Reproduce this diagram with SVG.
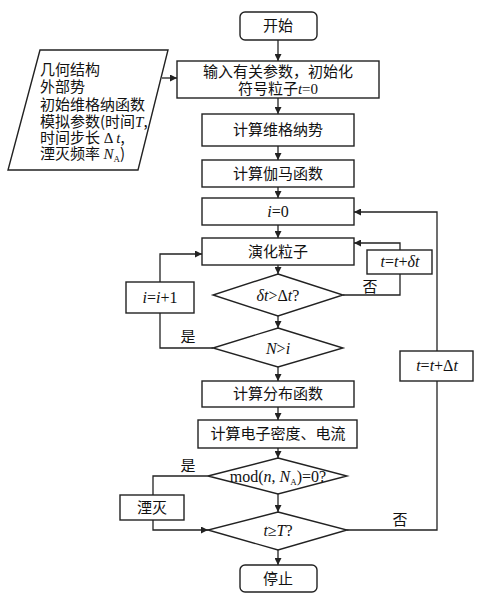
<svg xmlns="http://www.w3.org/2000/svg" width="481" height="594" viewBox="0 0 481 594">
<style>
.s{fill:#fff;stroke:#222;stroke-width:1.4}
.c{fill:none;stroke:#222;stroke-width:1.3}
.t{font-family:"Noto Sans CJK SC","Liberation Serif",serif;font-size:15px;fill:#111;text-anchor:middle}
.l{font-family:"Noto Sans CJK SC","Liberation Serif",serif;font-size:15px;fill:#111}
.m{font-family:"Liberation Serif",serif;font-size:16px;fill:#111;text-anchor:middle}
.i{font-style:italic}
</style>
<defs>
<marker id="a" viewBox="0 0 10 10" refX="10" refY="5" markerWidth="7" markerHeight="7" markerUnits="userSpaceOnUse" orient="auto">
<path d="M0,0L10,5L0,10z" fill="#222"/>
</marker>
</defs>
<g id="connectors" class="c" marker-end="url(#a)">
<line x1="278" y1="40" x2="278" y2="61"/>
<line x1="162" y1="78" x2="177" y2="78"/>
<line x1="278" y1="98" x2="278" y2="114"/>
<line x1="278" y1="146" x2="278" y2="160"/>
<line x1="278" y1="187" x2="278" y2="198"/>
<line x1="278" y1="225" x2="278" y2="238"/>
<line x1="278" y1="265" x2="278" y2="274"/>
<line x1="278" y1="316" x2="278" y2="328"/>
<line x1="278" y1="367" x2="278" y2="381"/>
<line x1="278" y1="407" x2="278" y2="420"/>
<line x1="278" y1="448" x2="278" y2="458"/>
<line x1="278" y1="494" x2="278" y2="512"/>
<line x1="278" y1="550" x2="278" y2="565"/>
<polyline points="343,295 400,295 400,274" marker-end="none"/>
<polyline points="400,250 400,243 354,243"/>
<polyline points="213,348 160,348 160,313" marker-end="none"/>
<polyline points="160,282 160,254 202,254"/>
<polyline points="437,351 437,212 354,212"/>
<polyline points="347,530 437,530 437,381" marker-end="none"/>
<polyline points="208,476 153,476 153,495" marker-end="none"/>
<polyline points="153,520 153,530 208,530"/>
</g>
<g id="start"><rect class="s" x="240" y="12" width="77" height="28" rx="5"/><text class="t" x="278" y="31">开始</text></g>
<g id="params"><polygon class="s" points="40,50 168,50 138,170 8,170"/>
<text class="l" x="40" y="75">几何结构</text>
<text class="l" x="40" y="92">外部势</text>
<text class="l" x="40" y="110">初始维格纳函数</text>
<text class="l" x="40" y="127">模拟参数(时间<tspan class="i" font-family="Liberation Serif">T</tspan>,</text>
<text class="l" x="40" y="143">时间步长<tspan font-family="Liberation Serif"> Δ </tspan><tspan class="i" font-family="Liberation Serif">t</tspan>,</text>
<text class="l" x="40" y="159">湮灭频率 <tspan class="i" font-family="Liberation Serif">N</tspan><tspan font-family="Liberation Serif" font-size="9" dy="3">A</tspan><tspan dy="-3">)</tspan></text>
</g>
<g id="init"><rect class="s" x="177" y="61" width="202" height="37"/>
<text class="t" x="278" y="77">输入有关参数，初始化</text>
<text class="t" x="278" y="94">符号粒子<tspan class="i" font-family="Liberation Serif">t</tspan><tspan font-family="Liberation Serif">=0</tspan></text></g>
<g id="wigner"><rect class="s" x="202" y="114" width="152" height="32"/><text class="t" x="278" y="135">计算维格纳势</text></g>
<g id="gamma"><rect class="s" x="202" y="160" width="152" height="27"/><text class="t" x="278" y="179">计算伽马函数</text></g>
<g id="i0"><rect class="s" x="202" y="198" width="152" height="27"/><text class="m" x="278" y="217"><tspan class="i">i</tspan>=0</text></g>
<g id="evolve"><rect class="s" x="202" y="238" width="152" height="27"/><text class="t" x="278" y="257">演化粒子</text></g>
<g id="dtdec"><polygon class="s" points="278,274 343,295 278,316 213,295"/><text class="m" x="278" y="301"><tspan class="i">δt</tspan>&gt;Δ<tspan class="i">t</tspan>?</text></g>
<g id="tdt"><rect class="s" x="367" y="250" width="65" height="24"/><text class="m" x="400" y="267"><tspan class="i">t</tspan>=<tspan class="i">t</tspan>+<tspan class="i">δt</tspan></text></g>
<g id="ii1"><rect class="s" x="126" y="282" width="68" height="31"/><text class="m" x="160" y="303"><tspan class="i">i</tspan>=<tspan class="i">i</tspan>+1</text></g>
<g id="ndec"><polygon class="s" points="278,328 343,348 278,367 213,348"/><text class="m" x="278" y="354"><tspan class="i">N</tspan>&gt;<tspan class="i">i</tspan></text></g>
<g id="tDt"><rect class="s" x="400" y="351" width="73" height="30"/><text class="m" x="437" y="371"><tspan class="i">t</tspan>=<tspan class="i">t</tspan>+Δ<tspan class="i">t</tspan></text></g>
<g id="dist"><rect class="s" x="202" y="381" width="152" height="26"/><text class="t" x="278" y="399">计算分布函数</text></g>
<g id="density"><rect class="s" x="198" y="420" width="159" height="28"/><text class="t" x="278" y="439">计算电子密度、电流</text></g>
<g id="moddec"><polygon class="s" points="278,458 347,476 278,494 208,476"/><text class="m" x="278" y="482">mod(<tspan class="i">n</tspan>, <tspan class="i">N</tspan><tspan font-size="9" dy="3">A</tspan><tspan dy="-3">)=0?</tspan></text></g>
<g id="annihil"><rect class="s" x="120" y="495" width="64" height="25"/><text class="t" x="152" y="513">湮灭</text></g>
<g id="tdec"><polygon class="s" points="278,512 347,530 278,550 208,530"/><text class="m" x="278" y="536"><tspan class="i">t</tspan>≥<tspan class="i">T</tspan>?</text></g>
<g id="stop"><rect class="s" x="240" y="565" width="77" height="27" rx="5"/><text class="t" x="278" y="584">停止</text></g>
<g id="labels">
<text class="t" x="370" y="292">否</text>
<text class="t" x="188" y="342">是</text>
<text class="t" x="188" y="471">是</text>
<text class="t" x="400" y="525">否</text>
</g>
</svg>
